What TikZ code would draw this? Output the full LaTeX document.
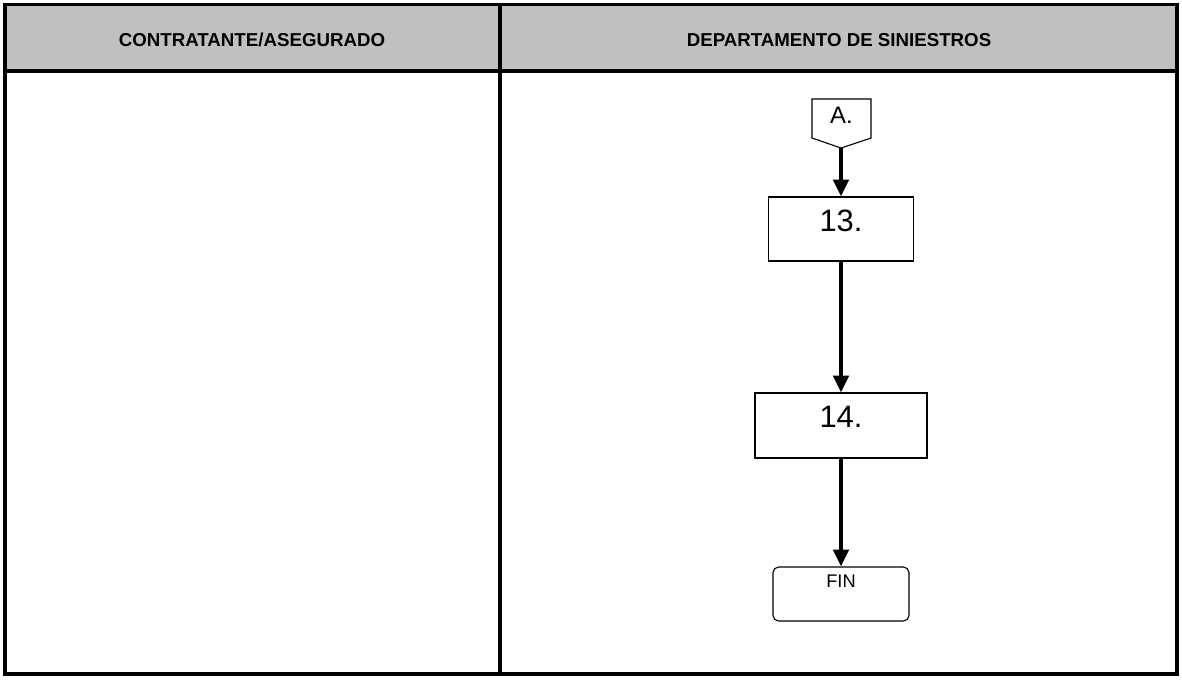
\documentclass[tikz,border=0pt]{standalone}
\usepackage{fontspec}
\setmainfont{Liberation Sans}
\usetikzlibrary{arrows.meta}

\definecolor{headgray}{HTML}{C0C0C0}

\tikzset{
  laneline/.style={line width=2.8pt},
  headtext/.style={font=\bfseries\fontsize{13.3}{15}\selectfont, inner sep=0pt, anchor=base},
  stepbox/.style={draw, line width=0.8pt, rectangle, inner sep=0pt},
  flowarrow/.style={line width=2.5pt, -{Triangle[length=12pt,width=11pt]}},
  numtext/.style={font=\fontsize{22}{24}\selectfont, inner sep=0pt, anchor=base},
}

\begin{document}
\begin{tikzpicture}[x=0.025cm, y=-0.025cm]
\useasboundingbox (0,0) rectangle (1182,679);

% header band
\fill[headgray] (5,5) rectangle (1177,71);
\node[headtext] (hleft) at (252,46) {CONTRATANTE/ASEGURADO};
\node[headtext] (hright) at (839,46) {DEPARTAMENTO DE SINIESTROS};

% table frame
\draw[laneline] (5,4.5) rectangle (1177,674);
\draw[laneline] (5,71) -- (1177,71);
\draw[laneline] (500,4.5) -- (500,674);

% off-page connector
\draw[line width=0.8pt] (812,99) -- (871,99) -- (871,138) -- (841,148) -- (812,138) -- cycle;
\coordinate (conA) at (841,148);
\node[numtext, font=\fontsize{17}{19}\selectfont] (tA) at (841.5,123) {A.};

% steps
\node[stepbox, minimum width=3.625cm, minimum height=1.6cm] (p13) at (841,229) {};
\node[numtext] (t13) at (841,231) {13.};

\node[stepbox, minimum width=4.3cm, minimum height=1.625cm] (p14) at (841,425.5) {};
\node[numtext] (t14) at (841,427) {14.};

\node[stepbox, rounded corners=4pt, minimum width=3.4cm, minimum height=1.35cm] (fin) at (841,594) {};
\node[numtext, font=\fontsize{13}{15}\selectfont] (tfin) at (841,587) {FIN};

% flow
\draw[flowarrow] (conA) -- (conA |- p13.north);
\draw[flowarrow] (p13.south) -- (p14.north);
\draw[flowarrow] (p14.south) -- (fin.north);

\end{tikzpicture}
\end{document}
